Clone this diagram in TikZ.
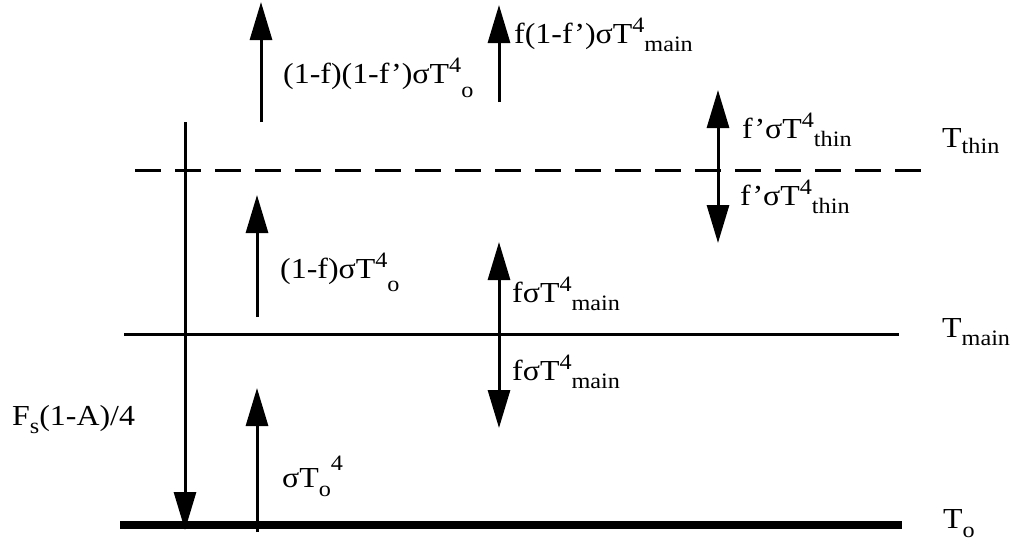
\documentclass[tikz,border=0pt]{standalone}
\usepackage{fontspec}
\setmainfont[FakeStretch=1.1]{Liberation Serif}
\usetikzlibrary{arrows.meta}
\newcommand\up[2]{\raisebox{#1pt}{\fontsize{22}{22}\selectfont #2}}
\newcommand\dn[2]{\raisebox{-#1pt}{\fontsize{22}{22}\selectfont #2}}
\tikzset{
  lbl/.style={anchor=base west, inner sep=0pt, font=\fontsize{29}{33}\selectfont},
  flux/.style={line width=3pt, -{Triangle[width=22pt,length=38pt]}},
  flux2/.style={line width=3pt, {Triangle[width=22pt,length=38pt]}-{Triangle[width=22pt,length=38pt]}},
  level/.style={line width=3pt},
}
\begin{document}
\begin{tikzpicture}[x=1pt,y=-1pt]
\useasboundingbox (0,0) rectangle (1026,544);
% levels
\coordinate (oL) at (120,525); \coordinate (oR) at (902,525);
\coordinate (mL) at (124,334); \coordinate (mR) at (899,334);
\coordinate (tL) at (135,170); \coordinate (tR) at (932,170);
\draw[line width=8pt] (oL) -- (oR);
\draw[level] (mL) -- (mR);
\draw[level, dash pattern=on 26pt off 14pt] (tL) -- (tR);
% arrows
\coordinate (s1) at (185,122); \coordinate (s2) at (185,530);
\draw[flux] (s1) -- (s2);
\coordinate (a1) at (257,532); \coordinate (a2) at (257,388);
\draw[flux] (a1) -- (a2);
\coordinate (b1) at (257,317); \coordinate (b2) at (257,195);
\draw[flux] (b1) -- (b2);
\coordinate (c1) at (261,122); \coordinate (c2) at (261,2);
\draw[flux] (c1) -- (c2);
\coordinate (d1) at (499,102); \coordinate (d2) at (499,5);
\draw[flux] (d1) -- (d2);
\coordinate (e1) at (718,90); \coordinate (e2) at (718,243);
\draw[flux2] (e1) -- (e2);
\coordinate (g1) at (499,242); \coordinate (g2) at (499,428);
\draw[flux2] (g1) -- (g2);
% labels
\node[lbl] (Lc) at (283,83) {(1-f)(1-f’)σT\up{11}{4}\dn{14}{o}};
\node[lbl] (Ld) at (514,43) {f(1-f’)σT\up{11}{4}\dn{8}{main}};
\node[lbl] (Le1) at (742,138) {f’σT\up{11}{4}\dn{8}{thin}};
\node[lbl] (Le2) at (740,205) {f’σT\up{11}{4}\dn{8}{thin}};
\node[lbl] (Lb) at (280,278) {(1-f)σT\up{11}{4}\dn{13}{o}};
\node[lbl] (Lg1) at (512,302) {fσT\up{11}{4}\dn{8}{main}};
\node[lbl] (Lg2) at (512,380) {fσT\up{11}{4}\dn{8}{main}};
\node[lbl] (La) at (282,487) {σT\dn{9}{o}\up{17}{4}};
\node[lbl] (Ls) at (12,425) {F\dn{8}{s}(1-A)/4};
\node[lbl] (Tt) at (942,147) {T\dn{6}{thin}};
\node[lbl] (Tm) at (942,337) {T\dn{8}{main}};
\node[lbl] (To) at (943,528) {T\dn{9}{o}};
\end{tikzpicture}
\end{document}
